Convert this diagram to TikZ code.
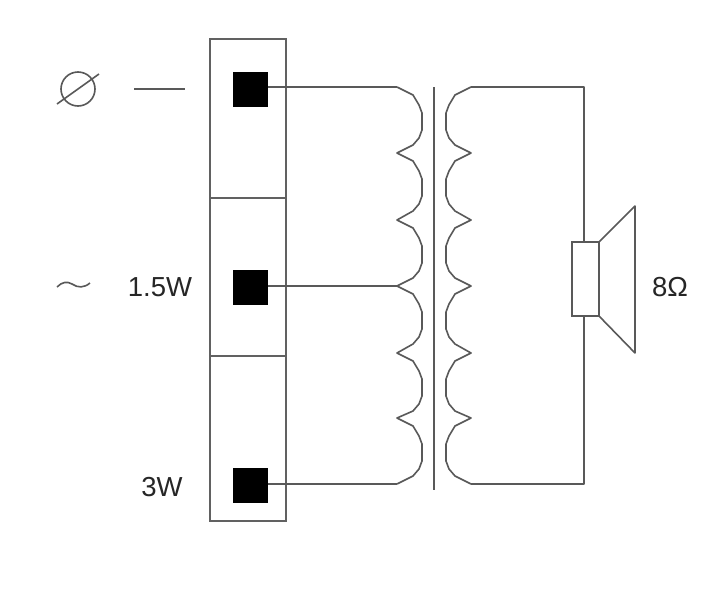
\documentclass[tikz,border=0pt]{standalone}
\usepackage{fontspec}
\setmainfont{Liberation Sans}
\newcommand\lobe[3]{-- ({#1+#2*16},{#3+8}) -- ({#1+#2*22},{#3+18}) -- ({#1+#2*25},{#3+26}) -- ({#1+#2*25},{#3+43}) -- ({#1+#2*22},{#3+51}) -- ({#1+#2*16},{#3+58})}
\tikzset{
  wire/.style={draw=black!65,line width=1.6pt,line join=round},
  thin wire/.style={draw=black!65,line width=1.6pt,line join=round},
  term/.style={fill=black,draw=none,minimum size=35pt,inner sep=0pt,outer sep=0pt},
  cell/.style={draw=black!62,line width=1.4pt,minimum width=76pt,inner sep=0pt,outer sep=0pt},
  lbl/.style={inner sep=0pt,font=\fontsize{27.5}{29}\selectfont,text=black!85},
  vc/.style={draw=black!65,fill=white,line width=1.5pt,minimum width=27pt,minimum height=74pt,inner sep=0pt,outer sep=0pt},
}
\begin{document}
\begin{tikzpicture}[x=1pt,y=-1pt]
\useasboundingbox (0,0) rectangle (720,592);
\fill[white] (0,0) rectangle (720,592);
% terminal strip
\node[cell,minimum height=159pt] (c1) at (248,118.5) {};
\node[cell,minimum height=158pt] (c2) at (248,277) {};
\node[cell,minimum height=165pt] (c3) at (248,438.5) {};
\node[term] (t1) at (250.5,89.5) {};
\node[term] (t2) at (250.5,287) {};
\node[term] (t3) at (250.5,485.5) {};
% coil tie points
\coordinate (la) at (397,87);
\coordinate (lb) at (397,286);
\coordinate (lc) at (397,484);
\coordinate (ra) at (471,87);
\coordinate (rc) at (471,484);
\coordinate (sa) at (584,87);
\coordinate (sc) at (584,484);
% primary
\draw[wire] (la) \lobe{397}{1}{87} -- (397,153) \lobe{397}{1}{153} -- (397,220) \lobe{397}{1}{220} -- (lb)
  \lobe{397}{1}{286} -- (397,353) \lobe{397}{1}{353} -- (397,418) \lobe{397}{1}{418} -- (lc);
% secondary
\draw[wire] (ra) \lobe{471}{-1}{87} -- (471,153) \lobe{471}{-1}{153} -- (471,220) \lobe{471}{-1}{220} -- (471,286)
  \lobe{471}{-1}{286} -- (471,353) \lobe{471}{-1}{353} -- (471,418) \lobe{471}{-1}{418} -- (rc);
% core
\coordinate (k1) at (434,87);
\coordinate (k2) at (434,490);
\draw[wire] (k1) -- (k2);
% connectors
\draw[thin wire] (t1.east |- la) -- (la);
\draw[thin wire] (t2.east |- lb) -- (lb);
\draw[thin wire] (t3.east |- lc) -- (lc);
% speaker
\node[vc] (vc) at (585.5,279) {};
\draw[wire] (ra) -- (sa) -- (vc.north -| sa);
\draw[wire] (rc) -- (sc) -- (vc.south -| sa);
\coordinate (cone1) at (635,206);
\coordinate (cone2) at (635,353);
\draw[wire] (vc.north east) -- (cone1) -- (cone2) -- (vc.south east);
% symbols
\coordinate (sym) at (78,89);
\draw[thin wire] (sym) circle[radius=17];
\draw[thin wire] (57,104) -- (99,74);
\coordinate (d1) at (134,89);
\coordinate (d2) at (185,89);
\draw[wire] (d1) -- (d2);
\coordinate (w1) at (57,287);
\coordinate (w2) at (90,283);
\draw[thin wire] (w1) .. controls (62,282) and (67,281) .. (72,284) .. controls (78,288) and (84,288) .. (w2);
% labels
\node[lbl] (l15) at (160,287) {1.5W};
\node[lbl] (l3) at (162,487) {3W};
\node[lbl] (l8) at (670,287) {8Ω};
\end{tikzpicture}
\end{document}
